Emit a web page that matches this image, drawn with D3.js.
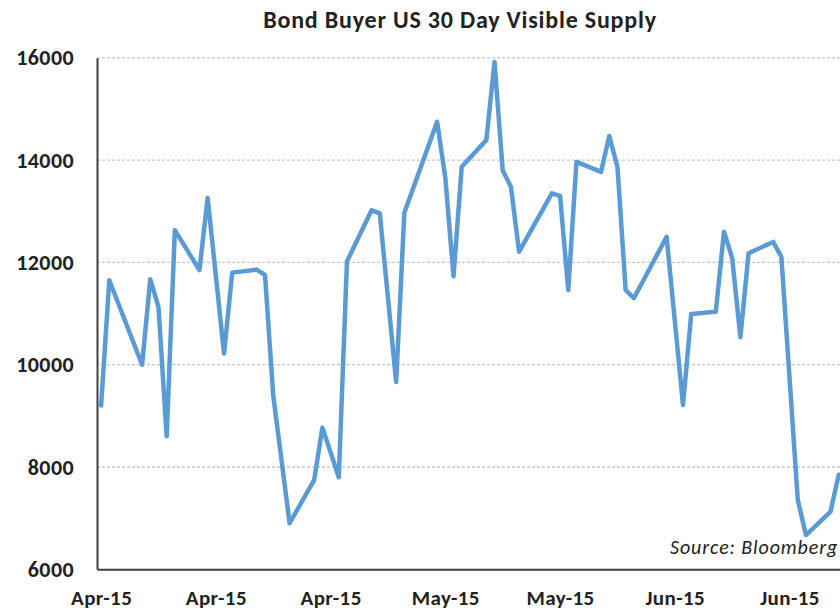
<!DOCTYPE html>
<html>
<head>
<meta charset="utf-8">
<script src="https://cdn.jsdelivr.net/npm/d3@7"></script>
<style>
  html, body { margin: 0; padding: 0; background: #fff; }
  svg { display: block; }
  text { font-family: Carlito, Lato, "Open Sans", sans-serif; fill: #222; }
</style>
</head>
<body>
<svg id="chart" width="840" height="613"></svg>
<script>
// ---- data ----
const dates = [
  "2015-04-01","2015-04-02","2015-04-06","2015-04-07","2015-04-08","2015-04-09","2015-04-10",
  "2015-04-13","2015-04-14","2015-04-16","2015-04-17","2015-04-20","2015-04-21","2015-04-22",
  "2015-04-24","2015-04-27","2015-04-28","2015-04-30","2015-05-01","2015-05-04","2015-05-05",
  "2015-05-07","2015-05-08","2015-05-12","2015-05-13","2015-05-14","2015-05-15","2015-05-18",
  "2015-05-19","2015-05-20","2015-05-21","2015-05-22","2015-05-26","2015-05-27","2015-05-28",
  "2015-05-29","2015-06-01","2015-06-02","2015-06-03","2015-06-04","2015-06-05","2015-06-09",
  "2015-06-11","2015-06-12","2015-06-15","2015-06-16","2015-06-17","2015-06-18","2015-06-19",
  "2015-06-22","2015-06-23","2015-06-25","2015-06-26","2015-06-29","2015-06-30"
];
const supply = [
  9200, 11650, 10000, 11670, 11130, 8600, 12630,
  11850, 13260, 10220, 11800, 11860, 11750, 9400,
  6900, 7750, 8770, 7800, 12020, 13020, 12960,
  9660, 12970, 14750, 13650, 11730, 13870, 14390,
  15920, 13800, 13480, 12210, 13350, 13300, 11460,
  13965, 13770, 14470, 13870, 11460, 11300, 12500,
  9210, 10990, 11035, 12600, 12080, 10535, 12180,
  12400, 12110, 7360, 6670, 7130, 7850
];
const xTickDates = ["2015-04-01","2015-04-15","2015-04-29","2015-05-13","2015-05-27","2015-06-10","2015-06-24"];
const yTicks = [6000, 8000, 10000, 12000, 14000, 16000];
const title = "Bond Buyer US 30 Day Visible Supply";
const source = "Source: Bloomberg";

// ---- layout ----
const parse = d3.timeParse("%Y-%m-%d");
const data = dates.map((d, i) => ({ date: parse(d), value: supply[i] }));
const svg = d3.select("#chart");

const plotLeft = 97, plotTop = 57.8, plotBottom = 569.3;
const pxPerDay = 8.196;
const domStart = d3.timeHour.offset(parse("2015-03-31"), 12);
const domEnd = d3.timeHour.offset(parse("2015-07-03"), 12);
const nDays = (domEnd - domStart) / 864e5;

const x = d3.scaleTime().domain([domStart, domEnd]).range([plotLeft, plotLeft + nDays * pxPerDay]);
const y = d3.scaleLinear().domain([6000, 16000]).range([plotBottom, plotTop]);

// gridlines
svg.append("g")
  .selectAll("line")
  .data(yTicks.filter(t => t > 6000))
  .join("line")
  .attr("x1", plotLeft).attr("x2", 840)
  .attr("y1", d => y(d)).attr("y2", d => y(d))
  .attr("stroke", "#c6c6c6")
  .attr("stroke-width", 1.3)
  .attr("stroke-dasharray", "3,2");

// y axis
const yAxis = svg.append("g")
  .attr("transform", `translate(${plotLeft},0)`)
  .call(d3.axisLeft(y).tickValues(yTicks).tickSize(0).tickPadding(23).tickFormat(d3.format("d")));
yAxis.select(".domain").attr("stroke", "#404040").attr("stroke-width", 2);
yAxis.selectAll("text").attr("font-size", 22).attr("font-weight", "bold").attr("letter-spacing", 0.4)
  .attr("fill", "#222").attr("font-family", "Carlito, Lato, sans-serif");

// x axis
const xAxis = svg.append("g")
  .attr("transform", `translate(0,${plotBottom})`)
  .call(d3.axisBottom(x).tickValues(xTickDates.map(parse)).tickSize(0).tickPadding(21).tickFormat(d3.timeFormat("%b-%y")));
xAxis.select(".domain").attr("stroke", "#404040").attr("stroke-width", 2);
xAxis.selectAll("text").attr("font-size", 21).attr("font-weight", "bold").attr("letter-spacing", 0.4)
  .attr("fill", "#222").attr("font-family", "Carlito, Lato, sans-serif");

// line
svg.append("path")
  .datum(data)
  .attr("fill", "none")
  .attr("stroke", "#5b9bd5")
  .attr("stroke-width", 4.5)
  .attr("stroke-linejoin", "round")
  .attr("stroke-linecap", "round")
  .attr("d", d3.line().x(d => x(d.date)).y(d => y(d.value)));

// title
svg.append("text")
  .attr("x", 460).attr("y", 28)
  .attr("text-anchor", "middle")
  .attr("font-size", 24)
  .attr("font-weight", "bold")
  .attr("letter-spacing", 0.8)
  .text(title);

// source
svg.append("text")
  .attr("x", 670).attr("y", 554)
  .attr("font-size", 20)
  .attr("font-style", "italic")
  .attr("letter-spacing", 0.9)
  .text(source);
</script>
</body>
</html>
